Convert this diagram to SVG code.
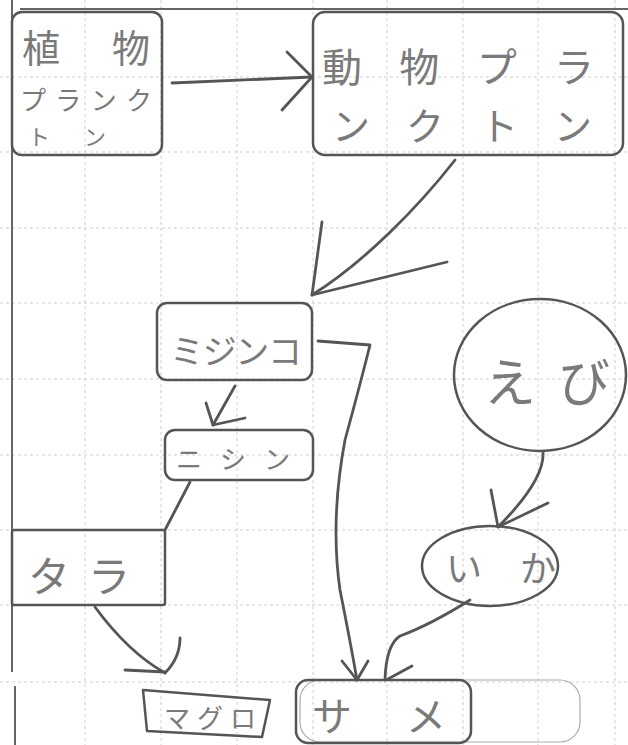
<svg xmlns="http://www.w3.org/2000/svg" width="628" height="745" viewBox="0 0 628 745">
<style>
.grid{stroke:#cfcfcf;stroke-width:1;stroke-dasharray:3 3;fill:none}
.margin{stroke:#666;stroke-width:2;fill:none}
.box{fill:none;stroke:#555;stroke-width:2.5;stroke-linejoin:round}
.faint{fill:none;stroke:#aaa;stroke-width:1.2}
.conn{fill:none;stroke:#555;stroke-width:2.8;stroke-linecap:round;stroke-linejoin:round}
.t{font-family:"Noto Sans CJK JP","Noto Sans CJK SC",sans-serif;fill:#7a7a7a}
</style>
<rect width="628" height="745" fill="#ffffff"/>
<g id="grid">
<path class="grid" d="M85,0V745M161,0V745M237,0V745M313,0V745M387,0V745M463,0V745M538,0V745M615,0V745"/>
<path class="grid" d="M0,77H628M0,152H628M0,228H628M0,303H628M0,379H628M0,455H628M0,530H628M0,605H628M0,682H628"/>
</g>
<g id="margins">
<path class="margin" d="M12,0V672"/>
<path class="margin" d="M15,686V745"/>
<path class="margin" d="M20,9H628"/>
</g>
<g id="connectors">
<path class="conn" d="M172,83 L312,77"/>
<path class="conn" d="M287,52 L312,77 L282,110"/>
<path class="conn" d="M455,160 C420,205 365,262 312,295"/>
<path class="conn" d="M322,222 L312,295 L447,262"/>
<path class="conn" d="M235,386 L213,425"/>
<path class="conn" d="M206,403 L213,425 L245,418"/>
<path class="conn" d="M190,482 L165,530"/>
<path class="conn" d="M95,607 Q128,652 165,673"/>
<path class="conn" d="M180,638 Q180,658 165,673"/>
<path class="conn" d="M125,670 L165,672"/>
<path class="conn" d="M318,341 L370,345 Q360,385 345,440 Q330,520 340,590 Q350,640 357,680"/>
<path class="conn" d="M342,661 L357,680 L368,661"/>
<path class="conn" d="M470,600 Q430,625 400,636 Q386,645 385,680"/>
<path class="conn" d="M388,679 L412,666"/>
<path class="conn" d="M543,452 Q545,480 498,527"/>
<path class="conn" d="M491,490 L498,527 L548,503"/>
</g>
<g id="plant-plankton">
<rect class="box" x="12" y="12" width="150" height="143" rx="10"/>
<text class="t" x="22" y="62" font-size="38" textLength="128" lengthAdjust="spacing">植物</text>
<text class="t" x="20" y="110" font-size="26" textLength="132" lengthAdjust="spacing">プランク</text>
<text class="t" x="28" y="145" font-size="22" textLength="78" lengthAdjust="spacing">トン</text>
</g>
<g id="zooplankton">
<rect class="box" x="313" y="12" width="310" height="143" rx="12"/>
<text class="t" x="322" y="82" font-size="40" textLength="272" lengthAdjust="spacing">動物プラ</text>
<text class="t" x="332" y="140" font-size="38" textLength="260" lengthAdjust="spacing">ンクトン</text>
</g>
<g id="mijinko">
<rect class="box" x="157" y="303" width="155" height="77" rx="10"/>
<text class="t" x="170" y="364" font-size="34" textLength="132" lengthAdjust="spacing">ミジンコ</text>
</g>
<g id="nishin">
<rect class="box" x="165" y="430" width="148" height="50" rx="10"/>
<text class="t" x="176" y="469" font-size="26" textLength="114" lengthAdjust="spacing">ニシン</text>
</g>
<g id="tara">
<rect class="box" x="12" y="530" width="153" height="75" rx="2"/>
<text class="t" x="28" y="592" font-size="42" textLength="102" lengthAdjust="spacing">タラ</text>
</g>
<g id="maguro">
<path class="box" d="M143,690 L270,700 L262,737 L147,731 Z"/>
<text class="t" x="164" y="728" font-size="26" textLength="92" lengthAdjust="spacing">マグロ</text>
</g>
<g id="same">
<rect class="faint" x="300" y="680" width="280" height="62" rx="20"/>
<rect class="box" x="296" y="680" width="175" height="63" rx="12"/>
<text class="t" x="312" y="731" font-size="40" textLength="134" lengthAdjust="spacing">サメ</text>
</g>
<g id="ebi">
<ellipse class="box" cx="540" cy="375" rx="86" ry="76"/>
<text class="t" x="484" y="402" font-size="52" textLength="126" lengthAdjust="spacing">えび</text>
</g>
<g id="ika">
<ellipse class="box" cx="490" cy="566" rx="68" ry="40"/>
<text class="t" x="446" y="582" font-size="36" textLength="110" lengthAdjust="spacing">いか</text>
</g>
</svg>
